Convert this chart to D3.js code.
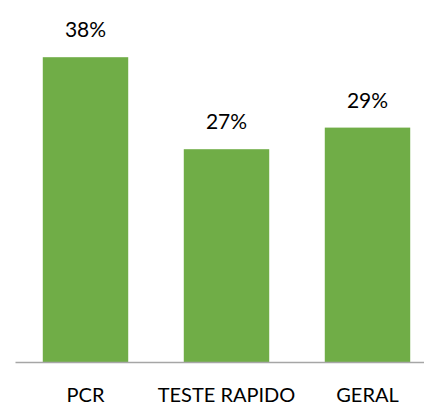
<!DOCTYPE html>
<html>
<head>
<meta charset="utf-8">
<script src="https://cdn.jsdelivr.net/npm/d3@7"></script>
<style>
  body { margin: 0; background: #fff; }
  text { font-family: Lato, "Open Sans", sans-serif; fill: #000; }
</style>
</head>
<body>
<script>
// chart data
var categories = ["PCR", "TESTE RAPIDO", "GERAL"];
var values = [38.1, 26.6, 29.3]; // percent
var valueLabels = ["38%", "27%", "29%"];

var width = 424, height = 405;
var baseline = 362;

var svg = d3.select("body").append("svg")
    .attr("width", width)
    .attr("height", height);

// x: each category gets ~141px, bars take 1/1.65 of it (excel style gap)
var xScale = d3.scaleBand()
    .domain(categories)
    .range([15, 438])
    .paddingInner(0.394)
    .paddingOuter(0.197);

var yScale = d3.scaleLinear()
    .domain([0, 40])
    .range([baseline, 42]);

var data = categories.map(function (c, i) {
    return { cat: c, v: values[i], label: valueLabels[i] };
});

// bars
svg.selectAll("rect.bar")
    .data(data)
    .enter().append("rect")
    .attr("class", "bar")
    .attr("x", function (d) { return xScale(d.cat); })
    .attr("y", function (d) { return yScale(d.v); })
    .attr("width", xScale.bandwidth())
    .attr("height", function (d) { return yScale(0) - yScale(d.v); })
    .attr("fill", "#70ad47");

// value labels
svg.selectAll("text.val")
    .data(data)
    .enter().append("text")
    .attr("class", "val")
    .attr("x", function (d) { return xScale(d.cat) + xScale.bandwidth() / 2; })
    .attr("y", function (d) { return yScale(d.v) - 20; })
    .attr("text-anchor", "middle")
    .style("font-size", "21px")
    .text(function (d) { return d.label; });

// x axis (line only, labels below)
var xAxis = svg.append("g")
    .attr("transform", "translate(0," + baseline + ")")
    .call(d3.axisBottom(xScale).tickSize(0).tickSizeOuter(0).tickPadding(26));

xAxis.select(".domain")
    .attr("stroke", "#a6a6a6")
    .attr("stroke-width", 1.5);

xAxis.selectAll(".tick text")
    .style("font-size", "20px")
    .style("font-family", "Lato, 'Open Sans', sans-serif")
    .attr("fill", "#000");
</script>
</body>
</html>
